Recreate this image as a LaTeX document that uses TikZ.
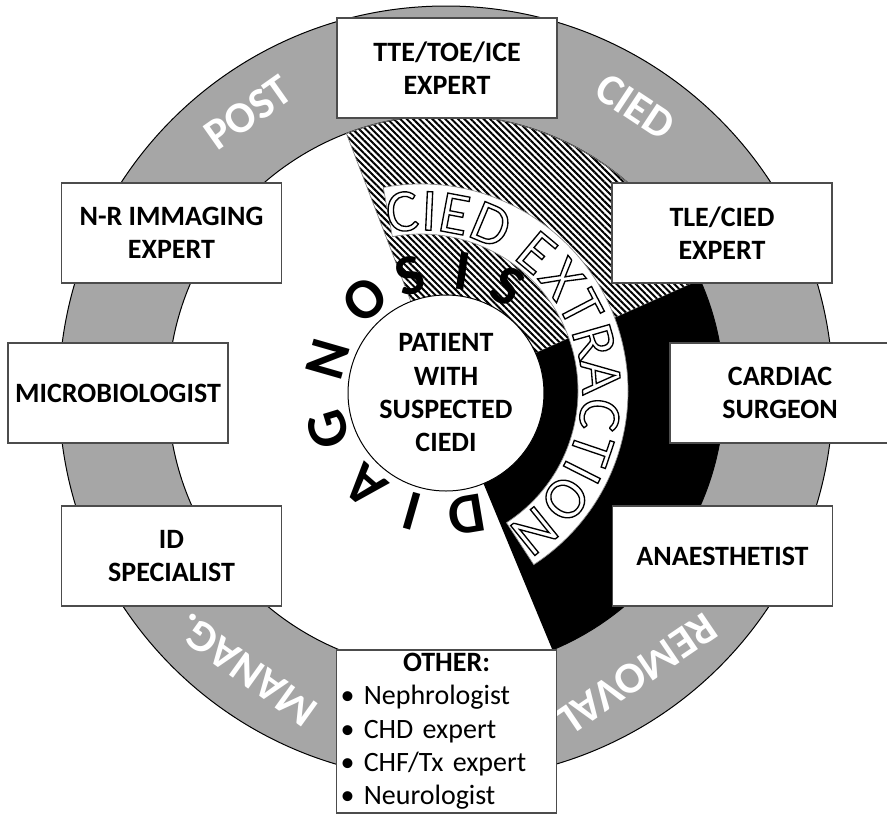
\documentclass[tikz,border=0pt]{standalone}
\usepackage{fontspec}
\setmainfont{Carlito}
\usetikzlibrary{patterns.meta}
\definecolor{ringgray}{RGB}{166,166,166}
\newcommand\hollow[1]{\special{pdf:literal direct 1 Tr 1 w}#1\special{pdf:literal direct 0 Tr}}

\begin{document}
\begin{tikzpicture}[x=0.75pt, y=0.75pt,
  member/.style={draw=black!70, line width=1.1pt, fill=white, minimum width=165pt, minimum height=75pt, align=center, font=\bfseries\fontsize{21}{25}\selectfont},
  ringlabel/.style={text=white, font=\bfseries\fontsize{33}{38}\selectfont},
  diagletter/.style={font=\bfseries\fontsize{43}{46}\selectfont, inner sep=0pt},
  arcletter/.style={font=\fontsize{45}{50}\selectfont, inner sep=0pt, anchor=base},
  hatch/.style={pattern={Lines[angle=-45, distance=3.4pt, line width=1.5pt]}}
]
\useasboundingbox (-446,-422) rectangle (441,393);
\draw[fill=ringgray, even odd rule, line width=0.75pt] (0,0) circle[radius=387] (0,0) circle[radius=278];
\draw[hatch, draw=black!50, line width=0.5pt] (0,0) -- (111:278) arc[start angle=111, end angle=24, radius=278] -- cycle;
\fill (0,0) -- (24:278) arc[start angle=24, end angle=-67.5, radius=278] -- cycle;
\begin{scope}[shift={(-25,2)}]
\draw[fill=white, draw=black!45, line width=0.5pt] (100.5:207) arc[start angle=100.5, end angle=-57, radius=207] -- (-57:157) arc[start angle=-57, end angle=100.5, radius=157] -- cycle;
\foreach \ch/\ang [count=\i] in {C/96, I/87.4, E/79.3, D/67.2, E/50.2, X/38.5, T/27.5, R/16, A/4.6, C/-7.6, T/-18.8, I/-26.8, O/-36.8, N/-51}
  \node[arcletter, rotate=\ang-90] (x\i) at (\ang:161) {\hollow{\ch}};
\end{scope}
\node[circle, draw, line width=0.75pt, fill=white, minimum size=147pt, inner sep=0pt, align=center, font=\bfseries\fontsize{21}{25}\selectfont] (patient) at (0,0) {PATIENT\\WITH\\SUSPECTED\\CIEDI};
\foreach \ch/\ang [count=\i] in {D/-80.5, I/-106, A/-131, G/-163, N/164, O/131, S/107, I/82, S/60}
  \node[diagletter, rotate=\ang-90] (dg\i) at (\ang:123) {\ch};
\node[ringlabel, rotate=35.2] (post) at (125.2:343) {POST};
\node[ringlabel, rotate=-33.5] (cied) at (56.5:343) {CIED};
\node[ringlabel, rotate=-145.8] (removal) at (-55.8:340) {REMOVAL};
\node[ringlabel, rotate=144.3] (manag) at (-125.7:341) {MANAG.};
\node[member] (tte) at (1,325) {TTE/TOE/ICE\\EXPERT};
\node[member] (nrimg) at (-274.5,160) {N-R IMMAGING\\EXPERT};
\node[member] (micro) at (-328,0) {MICROBIOLOGIST};
\node[member] (idspec) at (-274.5,-163) {ID\\SPECIALIST};
\node[member] (tle) at (276,160) {TLE/CIED\\EXPERT};
\node[member] (cardiac) at (334,0) {CARDIAC\\SURGEON};
\node[member] (anaest) at (276.5,-163) {ANAESTHETIST};
\node[member, minimum height=122pt, text width=159pt, inner xsep=3pt, inner ysep=2.5pt, align=left] (other) at (0.5,-338.5) {\centering OTHER:\par\raggedright\mdseries • Nephrologist\\• CHD expert\\• CHF/Tx expert\\• Neurologist};
\end{tikzpicture}
\end{document}
